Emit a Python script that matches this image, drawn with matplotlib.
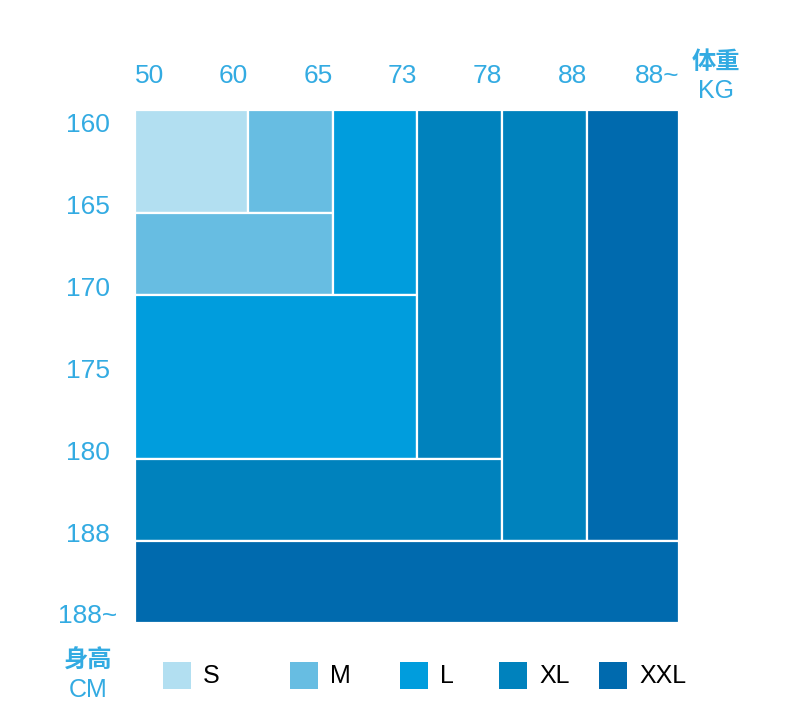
import matplotlib
matplotlib.use("Agg")
import matplotlib.pyplot as plt
from matplotlib.patches import Rectangle

# ---- data ----
sizes = ["S", "M", "L", "XL", "XXL"]
size_colors = ["#b2dff1", "#67bde2", "#009ddd", "#0082bd", "#006aae"]
weight_labels = ["50", "60", "65", "73", "78", "88", "88~"]
height_labels = ["160", "165", "170", "175", "180", "188", "188~"]
# cells: (size, col_start, col_end, row_start, row_end) in grid indices
cells = [
    ("S", 0, 1, 0, 1),
    ("M", 1, 2, 0, 1),
    ("M", 0, 2, 1, 2),
    ("L", 2, 3, 0, 2),
    ("L", 0, 3, 2, 3),
    ("XL", 3, 4, 0, 3),
    ("XL", 0, 4, 3, 4),
    ("XL", 4, 5, 0, 4),
    ("XXL", 5, 6, 0, 4),
    ("XXL", 0, 6, 4, 5),
]

# ---- layout (pixel-like units) ----
col_edges = [0, 113, 198, 282, 367, 452, 544]
row_edges = [0, 103, 185, 349, 431, 513]
height_label_y = [22, 104, 186, 268, 350, 432, 513]
legend_x = [28, 155, 265, 364, 464]
text_blue = "#33abe2"

W, H = 790, 725
fig = plt.figure(figsize=(W / 100, H / 100), dpi=100)
ax = fig.add_axes([135 / W, 1 - 623 / H, 544 / W, 513 / H])
ax.set_xlim(0, 544)
ax.set_ylim(513, 0)
ax.axis("off")

cmap = dict(zip(sizes, size_colors))
for s, c0, c1, r0, r1 in cells:
    x0, x1 = col_edges[c0], col_edges[c1]
    y0, y1 = row_edges[r0], row_edges[r1]
    ax.add_patch(Rectangle((x0, y0), x1 - x0, y1 - y0, facecolor=cmap[s],
                           edgecolor="white", linewidth=1.6))

font = "Liberation Sans"
cjk = ["Noto Sans CJK SC", "DejaVu Sans"]

# top weight labels
for i, lab in enumerate(weight_labels):
    ha = "left" if i == 0 else "right"
    ax.text(col_edges[i], -27, lab, ha=ha, va="baseline", fontsize=19,
            color=text_blue, family=font, clip_on=False)

# left height labels
for lab, y in zip(height_labels, height_label_y):
    ax.text(-47, y, lab, ha="center", va="baseline", fontsize=19,
            color=text_blue, family=font, clip_on=False)

# axis titles
ax.text(581, -41, "体重", ha="center", va="baseline", fontsize=17.5,
        fontweight="bold", color=text_blue, family=cjk, clip_on=False)
ax.text(581, -12, "KG", ha="center", va="baseline", fontsize=18,
        color=text_blue, family=font, clip_on=False)
ax.text(-47, 558, "身高", ha="center", va="baseline", fontsize=17.5,
        fontweight="bold", color=text_blue, family=cjk, clip_on=False)
ax.text(-47, 587, "CM", ha="center", va="baseline", fontsize=18,
        color=text_blue, family=font, clip_on=False)

# legend
for s, c, lx in zip(sizes, size_colors, legend_x):
    ax.add_patch(Rectangle((lx, 552), 28, 27, facecolor=c, edgecolor="none",
                           clip_on=False))
    ax.text(lx + 40, 573, s, ha="left", va="baseline", fontsize=18,
            color="black", family=font, clip_on=False)

fig.savefig("out.png", dpi=100)
